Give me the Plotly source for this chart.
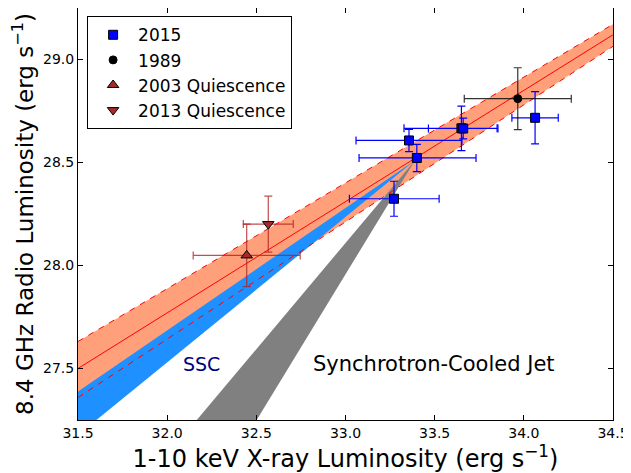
import plotly.graph_objects as go

# ---- data ----
# best-fit relation and its band (x in log L_X, y in log L_R)
fit_x = [31.5, 34.5]
fit_mid = [27.50, 29.12]
fit_hi = [27.631, 29.171]
fit_lo = [27.359, 29.064]

# SSC wedge (polygon vertices)
ssc_x = [31.5, 33.39, 31.5]
ssc_y = [27.388, 28.511, 27.177]

# synchrotron-cooled jet wedge (polygon vertices)
sync_x = [33.39, 32.166, 32.502]
sync_y = [28.511, 27.25, 27.25]

# 2015 points
x2015 = [34.063, 33.65, 33.66, 33.356, 33.40, 33.272]
y2015 = [28.717, 28.666, 28.665, 28.607, 28.522, 28.324]
x2015_errp = [0.13, 0.20, 0.195, 0.297, 0.332, 0.253]
x2015_errm = [0.13, 0.322, 0.195, 0.297, 0.324, 0.25]
y2015_err = [0.127, 0.108, 0.05, 0.054, 0.066, 0.085]

# 1989 point
x1989 = [33.966]
y1989 = [28.81]
x1989_err = [0.30]
y1989_err = [0.15]

# 2003 quiescence
x2003 = [32.446]
y2003 = [28.049]
x2003_err = [0.30]
y2003_err = [0.152]

# 2013 quiescence
x2013 = [32.567]
y2013 = [28.201]
x2013_err = [0.14]
y2013_err = [0.136]

x_ticks = [31.5, 32.0, 32.5, 33.0, 33.5, 34.0, 34.5]
y_ticks = [27.5, 28.0, 28.5, 29.0]

FONT = "DejaVu Sans"

fig = go.Figure()

# salmon band
fig.add_trace(go.Scatter(x=fit_x, y=fit_lo, mode="lines", line=dict(width=0),
                         showlegend=False, hoverinfo="skip"))
fig.add_trace(go.Scatter(x=fit_x, y=fit_hi, mode="lines", line=dict(width=0),
                         fill="tonexty", fillcolor="#FFA07A",
                         showlegend=False, hoverinfo="skip"))
# SSC wedge
fig.add_trace(go.Scatter(x=ssc_x, y=ssc_y, mode="lines", line=dict(width=0),
                         fill="toself", fillcolor="#1E90FF",
                         showlegend=False, hoverinfo="skip"))
# sync wedge
fig.add_trace(go.Scatter(x=sync_x, y=sync_y, mode="lines", line=dict(width=0),
                         fill="toself", fillcolor="#808080",
                         showlegend=False, hoverinfo="skip"))
# lines
for yy, dash in [(fit_hi, "6px,6px"), (fit_lo, "6px,6px"), (fit_mid, "solid")]:
    fig.add_trace(go.Scatter(x=fit_x, y=yy, mode="lines",
                             line=dict(color="red", width=1, dash=dash),
                             showlegend=False, hoverinfo="skip"))

# data points
fig.add_trace(go.Scatter(
    x=x2015, y=y2015, mode="markers", name="2015",
    marker=dict(symbol="square", size=9, color="#0000FF", line=dict(color="black", width=1)),
    error_x=dict(type="data", array=x2015_errp, arrayminus=x2015_errm, symmetric=False,
                 color="#0000FF", thickness=1.2, width=4),
    error_y=dict(type="data", array=y2015_err, color="#0000FF", thickness=1.2, width=4)))
fig.add_trace(go.Scatter(
    x=x1989, y=y1989, mode="markers", name="1989",
    marker=dict(symbol="circle", size=8, color="black", line=dict(color="black", width=1)),
    error_x=dict(type="data", array=x1989_err, color="rgba(0,0,0,0.8)", thickness=1.2, width=4),
    error_y=dict(type="data", array=y1989_err, color="rgba(0,0,0,0.8)", thickness=1.2, width=4)))
fig.add_trace(go.Scatter(
    x=x2003, y=y2003, mode="markers", name="2003 Quiescence",
    marker=dict(symbol="triangle-up", size=10, color="#A52A2A", line=dict(color="black", width=1)),
    error_x=dict(type="data", array=x2003_err, color="rgba(178,34,34,0.8)", thickness=1.2, width=4),
    error_y=dict(type="data", array=y2003_err, color="rgba(178,34,34,0.8)", thickness=1.2, width=4)))
fig.add_trace(go.Scatter(
    x=x2013, y=y2013, mode="markers", name="2013 Quiescence",
    marker=dict(symbol="triangle-down", size=10, color="#A52A2A", line=dict(color="black", width=1)),
    error_x=dict(type="data", array=x2013_err, color="rgba(178,34,34,0.8)", thickness=1.2, width=4),
    error_y=dict(type="data", array=y2013_err, color="rgba(178,34,34,0.8)", thickness=1.2, width=4)))

fig.add_annotation(x=32.195, y=27.524, text="SSC", showarrow=False,
                   font=dict(family=FONT, size=19, color="#000080"))
fig.add_annotation(x=33.497, y=27.524, text="Synchrotron-Cooled Jet", showarrow=False,
                   font=dict(family=FONT, size=21, color="black"))

axis_common = dict(showgrid=False, zeroline=False, showline=True, linecolor="black",
                   linewidth=1, mirror="ticks", ticks="inside", ticklen=5,
                   tickcolor="black", automargin=False,
                   tickfont=dict(family=FONT, size=14, color="black"))

# page has an 8px body margin, so the figure is sized to fit the 631x473 window
fig.update_layout(
    width=623, height=465,
    margin=dict(l=70, r=18, t=0, b=53),
    paper_bgcolor="white", plot_bgcolor="white",
    font=dict(family=FONT, color="black"),
    xaxis=dict(range=[31.5, 34.5], tickvals=x_ticks,
               ticktext=[f"{v:.1f}" for v in x_ticks],
               title=dict(text="1-10 keV X-ray Luminosity (erg s<sup>−1</sup>)",
                          font=dict(family=FONT, size=24), standoff=4),
               **axis_common),
    yaxis=dict(range=[27.25, 29.25], tickvals=y_ticks,
               ticktext=[f"{v:.1f}" for v in y_ticks],
               title=dict(text="8.4 GHz Radio Luminosity (erg s<sup>−1</sup>)",
                          font=dict(family=FONT, size=23), standoff=8),
               **axis_common),
    legend=dict(x=0.017, y=0.98, xanchor="left", yanchor="top",
                bgcolor="white", bordercolor="black", borderwidth=1,
                traceorder="normal", itemwidth=40,
                font=dict(family=FONT, size=17), tracegroupgap=0),
    showlegend=True,
)

fig.write_html("out.html")
